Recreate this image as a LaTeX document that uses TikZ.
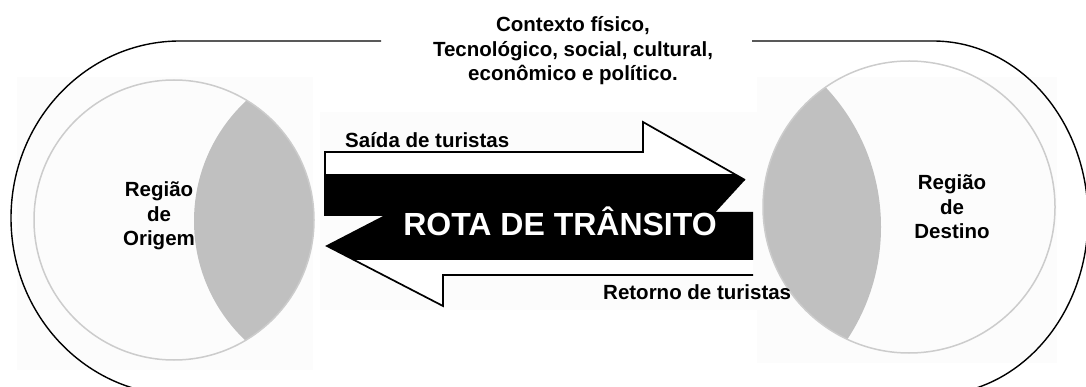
\documentclass[tikz,border=0pt]{standalone}
\usepackage{fontspec}
\setmainfont{Liberation Sans}
\definecolor{lente}{RGB}{192,192,192}
\definecolor{anelcinza}{RGB}{204,204,204}
\definecolor{fundo}{RGB}{252,252,252}

\begin{document}
\begin{tikzpicture}[x=1pt,y=-1pt,
	rotulo/.style={font=\bfseries\fontsize{20.5}{24.5}\selectfont, align=center, inner sep=0pt},
	anel/.style={draw=anelcinza, line width=1.5pt},
	contorno/.style={line width=1.7pt, line join=miter}]
	\useasboundingbox (0,0) rectangle (1086,387);
	\clip (0,0) rectangle (1086,387);
	% fundos quase brancos
	\fill[fundo] (17,77) rectangle (313,370);
	\fill[fundo] (757,77) rectangle (1057,363);
	\fill[fundo] (320,112) rectangle (770,310);
	% contexto (contorno externo)
	\draw[line width=1.4pt] (381,41) -- (180,41)
		arc[start angle=270, end angle=90, x radius=169, y radius=177]
		-- (933,395)
		arc[start angle=90, end angle=-90, x radius=155, y radius=177]
		-- (752,41);
	% regiao de origem
	\begin{scope}
		\clip (174,220) circle (140);
		\fill[lente] (358.6,221) circle (164.6);
	\end{scope}
	\draw[anel] (174,220) circle (140);
	% regiao de destino
	\begin{scope}
		\clip (909,207) circle (146);
		\fill[lente] (677,227) circle (204);
	\end{scope}
	\draw[anel] (909,207) circle (146);
	% setas
	\fill[white] (325,152) -- (643,152) -- (643,122) -- (745,180) -- (712,216) -- (325,216) -- cycle;
	\fill[white] (753,212) -- (443,212) -- (443,186) -- (327,246) -- (443,306) -- (443,275) -- (753,275) -- cycle;
	\draw[contorno] (325,216) -- (325,152) -- (643,152) -- (643,122) -- (745,180);
	\draw[contorno] (753,275) -- (443,275) -- (443,306) -- (327,246) -- (443,186);
	\begin{scope}
		\clip (0,175) rectangle (1086,260);
		\fill (325,152) -- (643,152) -- (643,122) -- (745,180) -- (712,216) -- (325,216) -- cycle;
		\fill (753,212) -- (443,212) -- (443,186) -- (327,246) -- (443,306) -- (443,275) -- (753,275) -- cycle;
	\end{scope}
	% textos
	\node[rotulo] (origem) at (159,216) {Região\\de\\Origem};
	\node[rotulo] (destino) at (952,207) {Região\\de\\Destino};
	\node[rotulo] (contexto) at (573,51) {Contexto físico,\\Tecnológico, social, cultural,\\econômico e político.};
	\node[rotulo, anchor=west] (saida) at (345,140) {Saída de turistas};
	\node[rotulo, anchor=west] (retorno) at (603,292) {Retorno de turistas};
	\node[rotulo, text=white, font=\bfseries\fontsize{32}{36}\selectfont] (rota) at (560,221) {ROTA DE TRÂNSITO};
\end{tikzpicture}
\end{document}
